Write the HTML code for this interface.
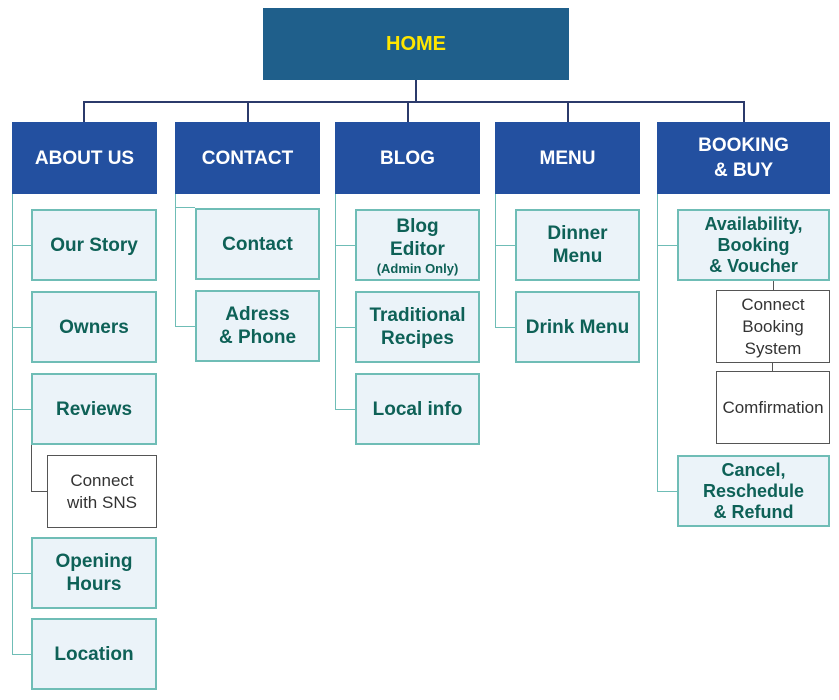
<!DOCTYPE html>
<html><head><style>
body{margin:0;width:839px;height:700px;background:#fff;position:relative;overflow:hidden;font-family:"Liberation Sans",Arial,sans-serif}
.b{position:absolute;box-sizing:border-box;display:flex;align-items:center;justify-content:center;text-align:center}
.h{background:#2350a0;color:#fff;font-size:19px;line-height:25px;font-weight:bold}
.c{background:#ebf3f9;border:2px solid #6fbdb6;color:#0e6157;font-weight:bold;font-size:19px;line-height:23px}
.s{background:#fff;border:1.5px solid #555;color:#333;font-size:17px;line-height:22px}
.l{position:absolute;background:#6fbdb6}
.n{position:absolute;background:#2b3a6b}
</style></head><body>
<div class="b" style="left:263px;top:8px;width:306px;height:72px;background:#1f5f8b;color:#ffe600;font-weight:bold;font-size:20px">HOME</div>
<div class="n" style="left:415px;top:80px;width:2px;height:23px"></div>
<div class="n" style="left:83px;top:101px;width:662px;height:2px"></div>
<div class="n" style="left:83px;top:101px;width:2px;height:21px"></div>
<div class="n" style="left:247px;top:101px;width:2px;height:21px"></div>
<div class="n" style="left:407px;top:101px;width:2px;height:21px"></div>
<div class="n" style="left:567px;top:101px;width:2px;height:21px"></div>
<div class="n" style="left:743px;top:101px;width:2px;height:21px"></div>

<div class="b h" style="left:12px;top:122px;width:145px;height:72px">ABOUT US</div>
<div class="b h" style="left:175px;top:122px;width:145px;height:72px">CONTACT</div>
<div class="b h" style="left:335px;top:122px;width:145px;height:72px">BLOG</div>
<div class="b h" style="left:495px;top:122px;width:145px;height:72px">MENU</div>
<div class="b h" style="left:657px;top:122px;width:173px;height:72px">BOOKING<br>&amp; BUY</div>

<!-- about -->
<div class="l" style="left:12px;top:194px;width:1px;height:461px"></div>
<div class="l" style="left:12px;top:245px;width:19px;height:1px"></div>
<div class="l" style="left:12px;top:327px;width:19px;height:1px"></div>
<div class="l" style="left:12px;top:409px;width:19px;height:1px"></div>
<div class="l" style="left:12px;top:573px;width:19px;height:1px"></div>
<div class="l" style="left:12px;top:654px;width:19px;height:1px"></div>
<div style="position:absolute;left:31px;top:445px;width:1px;height:46px;background:#555"></div>
<div style="position:absolute;left:31px;top:491px;width:16px;height:1px;background:#555"></div>
<div class="b c" style="left:31px;top:209px;width:126px;height:72px">Our Story</div>
<div class="b c" style="left:31px;top:291px;width:126px;height:72px">Owners</div>
<div class="b c" style="left:31px;top:373px;width:126px;height:72px">Reviews</div>
<div class="b s" style="left:47px;top:455px;width:110px;height:73px">Connect<br>with SNS</div>
<div class="b c" style="left:31px;top:537px;width:126px;height:72px">Opening<br>Hours</div>
<div class="b c" style="left:31px;top:618px;width:126px;height:72px">Location</div>

<!-- contact -->
<div class="l" style="left:175px;top:194px;width:1px;height:133px"></div>
<div class="l" style="left:175px;top:207px;width:20px;height:1px"></div>
<div class="l" style="left:175px;top:326px;width:20px;height:1px"></div>
<div class="b c" style="left:195px;top:208px;width:125px;height:72px">Contact</div>
<div class="b c" style="left:195px;top:290px;width:125px;height:72px">Adress<br>&amp; Phone</div>

<!-- blog -->
<div class="l" style="left:335px;top:194px;width:1px;height:215px"></div>
<div class="l" style="left:335px;top:245px;width:20px;height:1px"></div>
<div class="l" style="left:335px;top:327px;width:20px;height:1px"></div>
<div class="l" style="left:335px;top:409px;width:20px;height:1px"></div>
<div class="b c" style="left:355px;top:209px;width:125px;height:72px"><div>Blog<br>Editor<br><span style="font-size:13px;line-height:15px;display:block">(Admin Only)</span></div></div>
<div class="b c" style="left:355px;top:291px;width:125px;height:72px">Traditional<br>Recipes</div>
<div class="b c" style="left:355px;top:373px;width:125px;height:72px">Local info</div>

<!-- menu -->
<div class="l" style="left:495px;top:194px;width:1px;height:133px"></div>
<div class="l" style="left:495px;top:245px;width:20px;height:1px"></div>
<div class="l" style="left:495px;top:327px;width:20px;height:1px"></div>
<div class="b c" style="left:515px;top:209px;width:125px;height:72px">Dinner<br>Menu</div>
<div class="b c" style="left:515px;top:291px;width:125px;height:72px">Drink Menu</div>

<!-- booking -->
<div class="l" style="left:657px;top:194px;width:1px;height:298px"></div>
<div class="l" style="left:657px;top:245px;width:20px;height:1px"></div>
<div class="l" style="left:657px;top:491px;width:20px;height:1px"></div>
<div style="position:absolute;left:773px;top:281px;width:1px;height:10px;background:#555"></div>
<div style="position:absolute;left:772px;top:363px;width:1px;height:9px;background:#555"></div>
<div class="b c" style="left:677px;top:209px;width:153px;height:72px;font-size:18px;line-height:21px">Availability,<br>Booking<br>&amp; Voucher</div>
<div class="b s" style="left:716px;top:290px;width:114px;height:73px">Connect<br>Booking<br>System</div>
<div class="b s" style="left:716px;top:371px;width:114px;height:73px">Comfirmation</div>
<div class="b c" style="left:677px;top:455px;width:153px;height:72px;font-size:18px;line-height:21px">Cancel,<br>Reschedule<br>&amp; Refund</div>
</body></html>
